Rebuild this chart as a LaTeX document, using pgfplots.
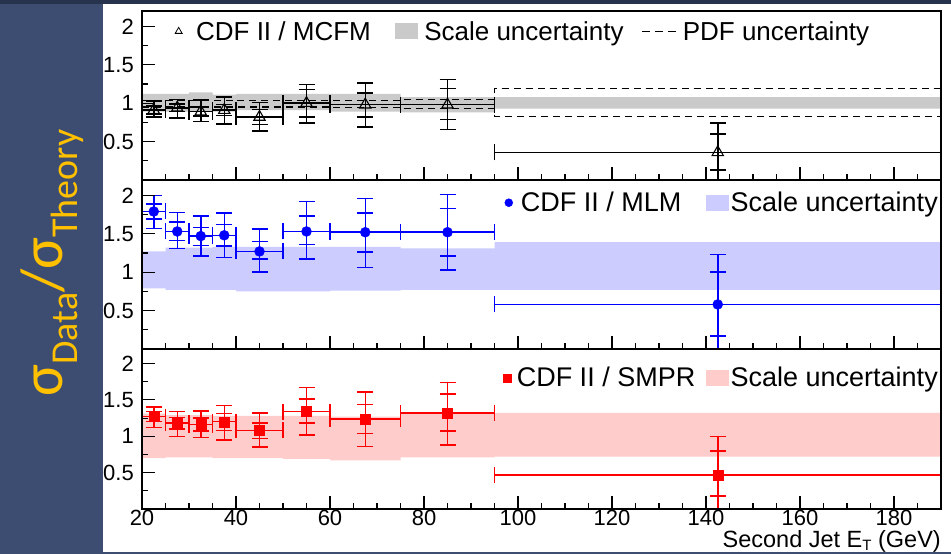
\documentclass[border=0pt]{standalone}
\usepackage{pgfplots}
\usepackage{pgfplotstable}
\pgfplotsset{compat=1.18}
\usepackage{fontspec}
\setmainfont{Liberation Sans}
\newfontfamily\carlito{Carlito}
\definecolor{bgblue}{HTML}{3D4D72}
\definecolor{bgtop}{HTML}{27324D}
\definecolor{sigorange}{HTML}{FFC000}
\definecolor{scalegray}{HTML}{CACACA}
\definecolor{mlmband}{HTML}{CCCCFF}
\definecolor{smprband}{HTML}{FFCCCC}
\definecolor{mlmblue}{HTML}{0000FF}
\definecolor{smprred}{HTML}{FF0000}

\pgfplotstableread{
x ex y ep em ip im
22.5 2.5 0.91 0.12 0.09 0.05 0.05
27.5 2.5 0.94 0.11 0.13 0.05 0.05
32.5 2.5 0.89 0.15 0.13 0.06 0.06
37.5 2.5 0.91 0.17 0.18 0.07 0.07
45 5 0.82 0.19 0.18 0.10 0.10
55 5 1.00 0.24 0.26 0.18 0.18
67.5 7.5 0.98 0.28 0.29 0.15 0.16
85 10 0.98 0.33 0.32 0.21 0.19
142.5 47.5 0.36 0.38 0.50 0.24 0.23
}\mcfm
\pgfplotstableread{
x pu pl
20 1.03 0.95
25 1.03 0.95
30 1.03 0.95
35 1.03 0.95
40 1.04 0.95
50 1.04 0.95
60 1.04 0.94
75 1.05 0.93
95 1.19 0.83
190 1.19 0.83
}\mcfmpdf
\pgfplotstableread{
x ex y ep em ip im
22.5 2.5 1.79 0.21 0.22 0.10 0.10
27.5 2.5 1.53 0.25 0.22 0.12 0.12
32.5 2.5 1.47 0.26 0.26 0.11 0.12
37.5 2.5 1.48 0.29 0.29 0.14 0.14
45 5 1.27 0.29 0.27 0.13 0.10
55 5 1.53 0.39 0.36 0.20 0.17
67.5 7.5 1.52 0.44 0.46 0.25 0.26
85 10 1.52 0.49 0.49 0.31 0.31
142.5 47.5 0.58 0.65 0.80 0.42 0.41
}\mlm
\pgfplotstableread{
x ex y ep em ip im
22.5 2.5 1.27 0.13 0.15 0.07 0.07
27.5 2.5 1.18 0.16 0.18 0.08 0.08
32.5 2.5 1.16 0.19 0.18 0.09 0.09
37.5 2.5 1.20 0.22 0.25 0.11 0.12
45 5 1.08 0.24 0.23 0.10 0.11
55 5 1.34 0.33 0.32 0.17 0.16
67.5 7.5 1.24 0.37 0.38 0.20 0.20
85 10 1.32 0.42 0.44 0.26 0.25
142.5 47.5 0.47 0.53 0.60 0.33 0.29
}\smpr

\pgfplotsset{
  panel/.style={
    scale only axis, width=799pt,
    xmin=20, xmax=190, ymin=0, ymax=2.2,
    axis on top,
    axis line style={line width=1.3pt, black},
    xtick={20,40,...,180}, minor xtick={20,25,...,190},
    ytick={0.5,1,1.5,2}, minor ytick={0.25,0.75,1.25,1.75},
    tick pos=left, tick align=inside,
    major tick length=13pt, minor tick length=6pt,
    every tick/.style={black, line width=1.1pt},
    ticklabel style={font=\fontsize{22}{22}\selectfont},
    /pgf/number format/assume math mode=true,
    yticklabel style={inner sep=0pt, xshift=-8pt},
    xticklabel style={inner sep=0pt, yshift=-1pt},
    legend cell align=left,
    legend style={draw=none, fill=none, font=\fontsize{26}{26}\selectfont,
      legend columns=-1, inner sep=0pt},
  },
  outerbar/.style={only marks, forget plot,
    error bars/x dir=both, error bars/x explicit,
    error bars/y dir=both, error bars/y explicit,
    error bars/error bar style={line width=1.5pt},
    error bars/error mark options={rotate=90, line width=1.5pt, mark size=8pt}},
  innerbar/.style={only marks, mark=*, mark size=0.2pt, forget plot,
    error bars/y dir=both, error bars/y explicit,
    error bars/error bar style={line width=1.5pt},
    error bars/error mark options={rotate=90, line width=1.5pt, mark size=8pt}},
}

\begin{document}
\begin{tikzpicture}
\useasboundingbox (0,0) rectangle (951pt,554pt);
\fill[bgblue] (0,0) rectangle (951pt,554pt);
\fill[bgtop] (0,550pt) rectangle (951pt,554pt);
\fill[white] (103pt,2pt) rectangle (951pt,550pt);

\node[rotate=90, text=sigorange, inner sep=0pt, anchor=base] at (62pt,291pt)
 {\carlito\fontsize{60}{60}\selectfont σ\raisebox{-15pt}{\fontsize{38}{38}\selectfont Data}/σ\raisebox{-15pt}{\fontsize{38}{38}\selectfont Theory}};

% ---------------- top panel: MCFM
\begin{axis}[panel, at={(142pt,374pt)}, anchor=south west, height=169pt,
  xticklabels={},
  legend style={at={(rel axis cs:0,1)}, anchor=north west, xshift=33pt, yshift=-8pt,
    /tikz/column 1/.style={column sep=12pt},
    /tikz/column 2/.style={column sep=22pt},
    /tikz/column 3/.style={column sep=5pt},
    /tikz/column 4/.style={column sep=16pt},
    /tikz/column 5/.style={column sep=4pt}}]
\addplot[fill=scalegray, draw=none, forget plot] coordinates {(20,1.12)(30,1.12)(30,1.14)(35,1.14)(35,1.11)(40,1.11)(40,1.12)(75,1.12)(75,1.08)(190,1.08)(190,0.93)(95,0.93)(95,0.88)(75,0.88)(75,0.89)(60,0.89)(60,0.91)(40,0.91)(40,0.89)(20,0.89)} -- cycle;
\addplot[black, line width=1.1pt, dash pattern=on 7pt off 5pt, const plot, forget plot] table[x=x,y=pu]{\mcfmpdf};
\addplot[black, line width=1.1pt, dash pattern=on 7pt off 5pt, const plot, forget plot] table[x=x,y=pl]{\mcfmpdf};
\addplot[black, innerbar] table[x=x,y=y,y error plus=ip,y error minus=im]{\mcfm};
\addplot[black, outerbar, mark=triangle, mark size=6.5pt, mark options={fill=white, line width=1.1pt}]
  table[x=x,y=y,x error=ex,y error plus=ep,y error minus=em]{\mcfm};
\addlegendimage{only marks, mark=triangle, mark size=4pt, black, mark options={line width=0.8pt}}
\addlegendentry{CDF II / MCFM}
\addlegendimage{legend image code/.code={\fill[scalegray] (0pt,-7pt) rectangle (22pt,8pt);}}
\addlegendentry{Scale uncertainty}
\addlegendimage{legend image code/.code={\draw[black, line width=1.1pt, dash pattern=on 8pt off 5pt] (0pt,0pt) -- (34pt,0pt);}}
\addlegendentry{PDF uncertainty}
\end{axis}

% ---------------- middle panel: MLM
\begin{axis}[panel, at={(142pt,205pt)}, anchor=south west, height=169pt,
  xticklabels={},
  legend style={at={(rel axis cs:1,1)}, anchor=north east, xshift=-1pt, yshift=-10pt,
    font=\fontsize{27}{27}\selectfont,
    /tikz/column 1/.style={column sep=6pt},
    /tikz/column 2/.style={column sep=23pt}}]
\addplot[fill=mlmband, draw=none, forget plot] coordinates {(20,1.27)(25,1.27)(25,1.32)(35,1.32)(35,1.33)(75,1.33)(75,1.31)(95,1.31)(95,1.39)(190,1.39)(190,0.77)(95,0.77)(75,0.77)(75,0.76)(60,0.76)(60,0.75)(40,0.75)(40,0.77)(25,0.77)(25,0.79)(20,0.79)} -- cycle;
\addplot[mlmblue, innerbar] table[x=x,y=y,y error plus=ip,y error minus=im]{\mlm};
\addplot[mlmblue, outerbar, mark=*, mark size=5pt]
  table[x=x,y=y,x error=ex,y error plus=ep,y error minus=em]{\mlm};
\addlegendimage{only marks, mark=*, mark size=4pt, mlmblue}
\addlegendentry{CDF II / MLM}
\addlegendimage{legend image code/.code={\fill[mlmband] (0pt,-7pt) rectangle (22pt,8pt);}}
\addlegendentry{Scale uncertainty}
\end{axis}

% ---------------- bottom panel: SMPR
\begin{axis}[panel, at={(142pt,45pt)}, anchor=south west, height=160pt,
  xlabel={Second Jet E\raisebox{-3pt}{\fontsize{15}{15}\selectfont T} (GeV)},
  xlabel style={at={(rel axis cs:1,0)}, anchor=base east, yshift=-39pt, inner sep=0pt,
    font=\fontsize{23.5}{23.5}\selectfont},
  legend style={at={(rel axis cs:1,1)}, anchor=north east, xshift=-1pt, yshift=-16pt,
    font=\fontsize{27}{27}\selectfont,
    /tikz/column 1/.style={column sep=4pt},
    /tikz/column 2/.style={column sep=9pt}}]
\addplot[fill=smprband, draw=none, forget plot] coordinates {(20,1.31)(25,1.31)(25,1.29)(35,1.29)(35,1.28)(60,1.28)(60,1.27)(75,1.27)(75,1.31)(95,1.31)(95,1.32)(190,1.32)(190,0.72)(95,0.72)(95,0.71)(75,0.71)(75,0.67)(60,0.67)(60,0.69)(50,0.69)(50,0.70)(35,0.70)(35,0.71)(25,0.71)(25,0.70)(20,0.70)} -- cycle;
\addplot[smprred, innerbar] table[x=x,y=y,y error plus=ip,y error minus=im]{\smpr};
\addplot[smprred, outerbar, mark=square*, mark size=5pt]
  table[x=x,y=y,x error=ex,y error plus=ep,y error minus=em]{\smpr};
\addlegendimage{only marks, mark=square*, mark size=4pt, smprred}
\addlegendentry{CDF II / SMPR}
\addlegendimage{legend image code/.code={\fill[smprband] (0pt,-7pt) rectangle (22pt,8pt);}}
\addlegendentry{Scale uncertainty}
\end{axis}
\end{tikzpicture}
\end{document}
